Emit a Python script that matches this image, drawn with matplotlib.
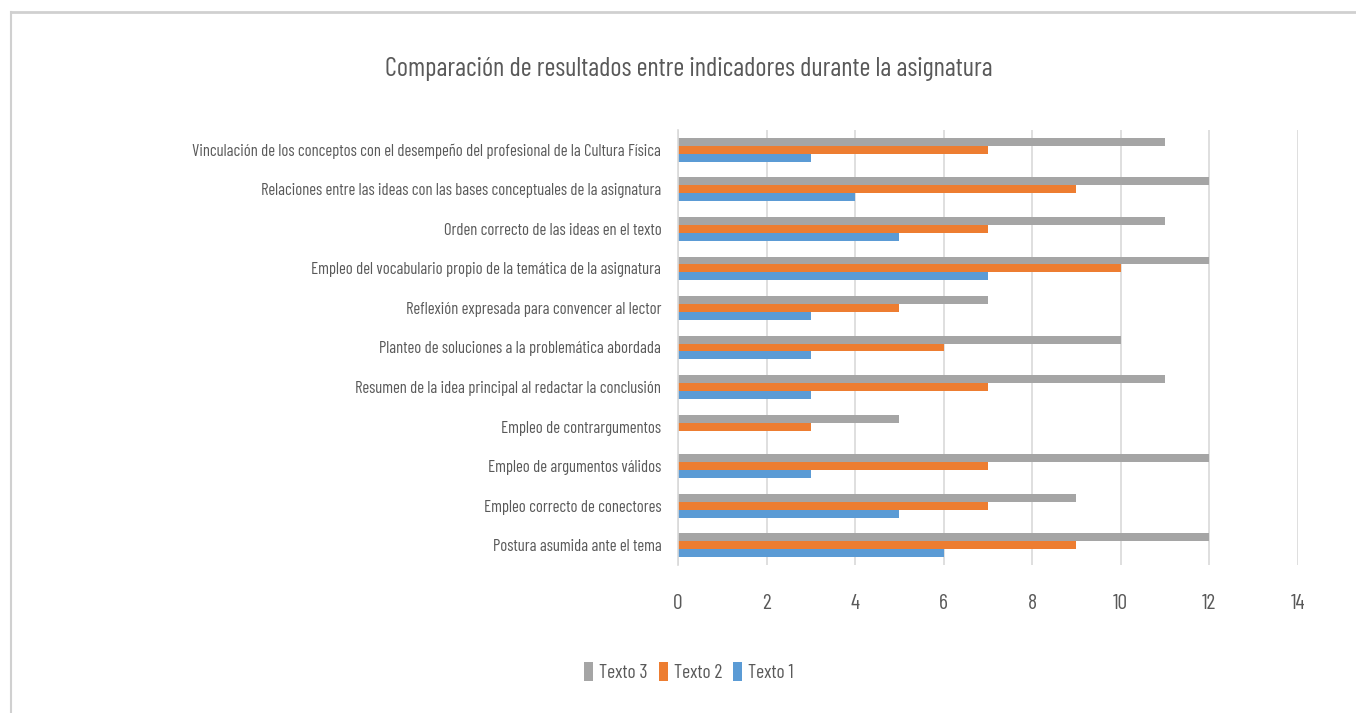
import numpy as np
import matplotlib
matplotlib.use("Agg")
import matplotlib.pyplot as plt
from matplotlib.lines import Line2D

plt.rcParams["font.family"] = ["Barlow Condensed", "DejaVu Sans"]
plt.rcParams["font.weight"] = "normal"

categorias = [
    "Postura asumida ante el tema",
    "Empleo correcto de conectores",
    "Empleo de argumentos válidos",
    "Empleo de contrargumentos",
    "Resumen de la idea principal al redactar la conclusión",
    "Planteo de soluciones a la problemática abordada",
    "Reflexión expresada para convencer al lector",
    "Empleo del vocabulario propio de la temática de la asignatura",
    "Orden correcto de las ideas en el texto",
    "Relaciones entre las ideas con las bases conceptuales de la asignatura",
    "Vinculación de los conceptos con el desempeño del profesional de la Cultura Física",
]
texto1 = [6, 5, 3, 0, 3, 3, 3, 7, 5, 4, 3]
texto2 = [9, 7, 7, 3, 7, 6, 5, 10, 7, 9, 7]
texto3 = [12, 9, 12, 5, 11, 10, 7, 12, 11, 12, 11]
xticks = [0, 2, 4, 6, 8, 10, 12, 14]

c1, c2, c3 = "#5b9bd5", "#ed7d31", "#a5a5a5"
txt = "#595959"

fig = plt.figure(figsize=(13.56, 7.13), dpi=100)
ax = fig.add_axes([0.5, 0.2076, 0.457, 0.6101])

y = np.arange(len(categorias))
h = 0.2
ax.barh(y - h, texto1, height=h, color=c1, label="Texto 1")
ax.barh(y, texto2, height=h, color=c2, label="Texto 2")
ax.barh(y + h, texto3, height=h, color=c3, label="Texto 3")

ax.set_xlim(0, 14)
ax.set_ylim(-0.5, len(categorias) - 0.5)
ax.set_xticks(xticks)
ax.set_yticks(y)
ax.set_yticklabels(categorias, fontsize=12, color=txt)
ax.tick_params(axis="x", labelsize=15.5, labelcolor=txt, length=0, pad=21)
ax.tick_params(axis="y", length=0, pad=12)
ax.grid(axis="x", color="#d9d9d9", linewidth=1.2)
ax.set_axisbelow(True)
for s in ["top", "right", "bottom"]:
    ax.spines[s].set_visible(False)
ax.spines["left"].set_color("#d9d9d9")
ax.spines["left"].set_linewidth(1.2)

fig.suptitle("Comparación de resultados entre indicadores durante la asignatura",
             x=0.508, y=0.92, fontsize=19, color=txt)

handles, labels = ax.get_legend_handles_labels()
fig.legend(handles[::-1], labels[::-1], loc="center", bbox_to_anchor=(0.508, 0.057),
           ncol=3, frameon=False, fontsize=14, labelcolor=txt,
           handlelength=0.45, handleheight=1.1, handletextpad=0.3, columnspacing=0.6)

# chart border like the source screenshot
fig.add_artist(Line2D([0.008, 1], [0.983, 0.983], color="#d0d0d0", lw=2, transform=fig.transFigure))
fig.add_artist(Line2D([0.008, 0.008], [0, 0.983], color="#d0d0d0", lw=1.5, transform=fig.transFigure))

fig.savefig("out.png")
